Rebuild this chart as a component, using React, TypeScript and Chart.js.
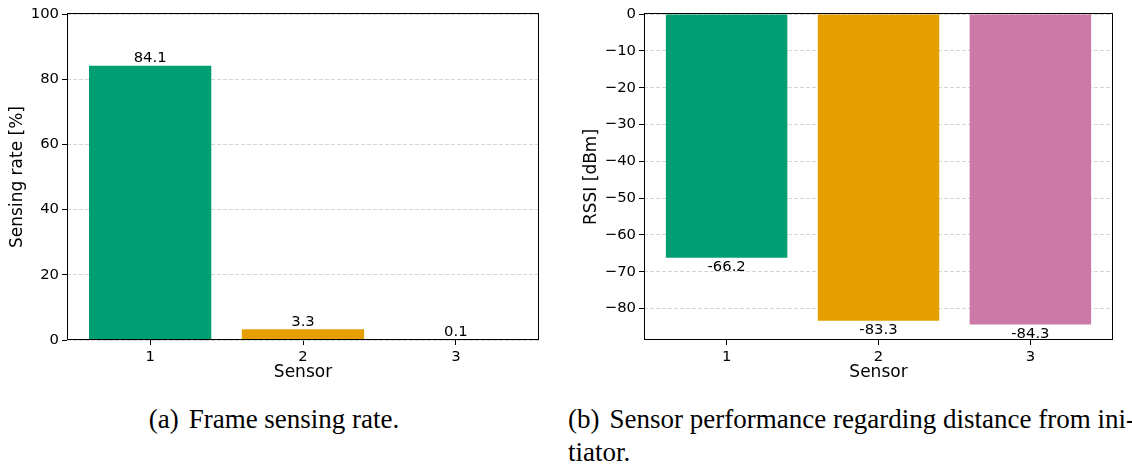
import React, { useEffect, useRef } from "react";
import { Chart, registerables } from "chart.js";

Chart.register(...registerables);

// ---- data ----
const SENSORS = ["1", "2", "3"];
const SENSOR_POS = [0, 1, 2];
const SENSING_RATE = [84.1, 3.3, 0.1];
const RSSI = [-66.2, -83.3, -84.3];
const BAR_COLORS = ["#009E73", "#E69F00", "#CC79A7"];
const RATE_RANGE = [0, 100];
const RATE_STEP = 20;
const RSSI_RANGE = [-88.515, 0];
const RSSI_STEP = 10;
const X_RANGE = [-0.544, 2.544];
const RATE_TITLE = "Sensing rate [%]";
const RSSI_TITLE = "RSSI [dBm]";
const X_TITLE = "Sensor";

const FONT = "'DejaVu Sans', sans-serif";
const TICK_SIZE = 14.8;
const TITLE_SIZE = 17;

type Cfg = {
  values: number[];
  yRange: number[];
  step: number;
  yTitle: string;
  below: boolean;
  gridOnTop: boolean;
  yWidth: number;
  yTitlePad: number;
  padRight: number;
};

const overlayPlugin = (below: boolean) => ({
  id: "overlay",
  afterDraw(chart: any) {
    const { ctx, chartArea } = chart;
    const { left, top, right, bottom } = chartArea;
    ctx.save();
    // frame (spines)
    ctx.strokeStyle = "#000";
    ctx.lineWidth = 1;
    ctx.strokeRect(
      Math.round(left) + 0.5,
      Math.round(top) - 0.5,
      Math.round(right - left) - 1,
      Math.round(bottom - top)
    );
    // bar value labels
    const meta = chart.getDatasetMeta(0);
    const ds = chart.data.datasets[0].data as any[];
    ctx.fillStyle = "#000";
    ctx.font = `${TICK_SIZE}px ${FONT}`;
    ctx.textAlign = "center";
    ctx.textBaseline = "alphabetic";
    meta.data.forEach((bar: any, i: number) => {
      const v = ds[i].y as number;
      const txt = v.toFixed(1);
      if (below) {
        ctx.fillText(txt, bar.x, bar.y + 13.5);
      } else {
        ctx.fillText(txt, bar.x, bar.y - 3.5);
      }
    });
    ctx.restore();
  },
});

function makeConfig(c: Cfg): any {
  return {
    type: "bar",
    data: {
      datasets: [
        {
          data: c.values.map((v, i) => ({ x: SENSOR_POS[i], y: v })),
          backgroundColor: BAR_COLORS,
          borderWidth: 0,
          categoryPercentage: 1,
          barPercentage: 0.8,
        },
      ],
    },
    options: {
      animation: false,
      responsive: false,
      maintainAspectRatio: false,
      devicePixelRatio: 1,
      layout: { padding: { top: 14, right: c.padRight, left: 0, bottom: 0 } },
      plugins: { legend: { display: false }, tooltip: { enabled: false } },
      scales: {
        x: {
          type: "linear",
          min: X_RANGE[0],
          max: X_RANGE[1],
          offset: false,
          afterFit: (s: any) => {
            s.height = 60;
          },
          ticks: {
            stepSize: 1,
            includeBounds: false,
            autoSkip: false,
            maxRotation: 0,
            padding: 3,
            color: "#000",
            font: { family: FONT, size: TICK_SIZE },
            callback: (v: number) => {
              const k = SENSOR_POS.indexOf(v);
              return k >= 0 ? SENSORS[k] : "";
            },
          },
          grid: {
            offset: false,
            drawOnChartArea: false,
            drawTicks: true,
            tickLength: 5,
            tickColor: "#000",
            tickWidth: 1,
          },
          border: { display: false },
          title: {
            display: true,
            text: X_TITLE,
            color: "#000",
            font: { family: FONT, size: TITLE_SIZE, lineHeight: 1.2 },
            padding: { top: 0, bottom: 17 },
          },
        },
        y: {
          type: "linear",
          min: c.yRange[0],
          max: c.yRange[1],
          z: c.gridOnTop ? 1 : 0,
          afterFit: (s: any) => {
            s.width = c.yWidth;
          },
          ticks: {
            stepSize: c.step,
            includeBounds: false,
            padding: 3,
            color: "#000",
            font: { family: FONT, size: TICK_SIZE },
            callback: (v: number) =>
              v < 0 ? "\u2212" + Math.abs(v) : String(v),
          },
          grid: {
            color: "#cccccc",
            lineWidth: 0.8,
            drawTicks: true,
            tickLength: 5,
            tickColor: "#000",
            tickWidth: 1,
          },
          border: { display: false, dash: [4, 2] },
          title: {
            display: true,
            text: c.yTitle,
            color: "#000",
            font: { family: FONT, size: TITLE_SIZE, lineHeight: 1.2 },
            padding: { top: c.yTitlePad, bottom: 0 },
          },
        },
      },
    },
    plugins: [overlayPlugin(c.below)],
  };
}

function BarChart({ cfg, width, height, left }: { cfg: Cfg; width: number; height: number; left: number }) {
  const ref = useRef<HTMLCanvasElement | null>(null);
  useEffect(() => {
    if (!ref.current) return;
    const chart = new Chart(ref.current, makeConfig(cfg));
    return () => chart.destroy();
  }, []);
  return (
    <canvas
      ref={ref}
      width={width}
      height={height}
      style={{ position: "absolute", left, top: 0, width, height }}
    />
  );
}

const captionStyle: React.CSSProperties = {
  position: "absolute",
  fontFamily: "'Liberation Serif', 'Times New Roman', serif",
  fontSize: 27,
  lineHeight: "30px",
  color: "#000",
  margin: 0,
};

export default function App() {
  const leftCfg: Cfg = {
    values: SENSING_RATE,
    yRange: RATE_RANGE,
    step: RATE_STEP,
    yTitle: RATE_TITLE,
    below: false,
    gridOnTop: false,
    yWidth: 67,
    yTitlePad: 7,
    padRight: 21,
  };
  const rightCfg: Cfg = {
    values: RSSI,
    yRange: RSSI_RANGE,
    step: RSSI_STEP,
    yTitle: RSSI_TITLE,
    below: true,
    gridOnTop: true,
    yWidth: 84,
    yTitlePad: 21,
    padRight: 19,
  };
  return (
    <div
      style={{
        position: "absolute",
        left: 0,
        top: 0,
        width: 1132,
        height: 464,
        background: "#fff",
        overflow: "hidden",
      }}
    >
      <BarChart cfg={leftCfg} width={560} height={400} left={0} />
      <BarChart cfg={rightCfg} width={572} height={400} left={560} />
      <div style={{ ...captionStyle, left: 0, top: 404, width: 548, textAlign: "center" }}>
        (a)<span style={{ display: "inline-block", width: 10 }} />Frame sensing rate.
      </div>
      <div
        style={{
          ...captionStyle,
          left: 568,
          top: 404,
          width: 558,
          whiteSpace: "nowrap",
          textAlign: "justify",
          textAlignLast: "justify",
        }}
      >
        (b)<span style={{ display: "inline-block", width: 10 }} />Sensor performance regarding distance from ini-
      </div>
      <div style={{ ...captionStyle, left: 568, top: 437, width: 560 }}>tiator.</div>
    </div>
  );
}
